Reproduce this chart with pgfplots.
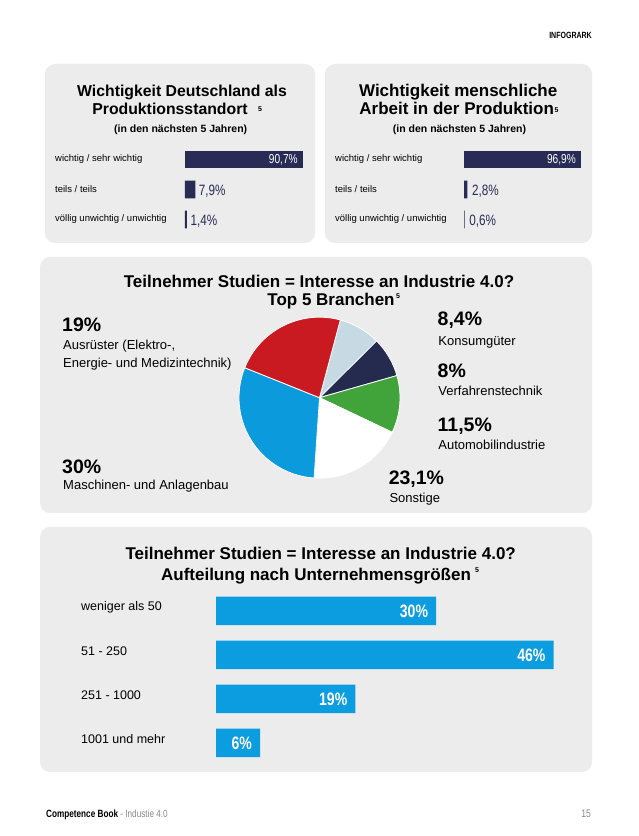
\documentclass[border=0pt]{standalone}
\usepackage{fontspec}
\setmainfont{Liberation Sans}
\newfontfamily\condfont[FakeStretch=0.78]{Liberation Sans}
\usepackage{pgfplots}
\pgfplotsset{compat=1.18}

\definecolor{panelgray}{HTML}{ECECEC}
\definecolor{navybar}{HTML}{272B55}
\definecolor{skyblue}{HTML}{0B9DDF}
\definecolor{piered}{HTML}{CA1A21}
\definecolor{pielight}{HTML}{C6DAE3}
\definecolor{pienavy}{HTML}{252A4F}
\definecolor{piegreen}{HTML}{41A43B}
\definecolor{pieblue}{HTML}{0B9ADB}
\definecolor{footgray}{HTML}{8A8A8A}

\newcommand{\fs}[1]{\fontsize{#1}{#1}\selectfont}

\pgfplotsset{
  hbars/.style={
    scale only axis, anchor=north west, xmin=0, y dir=reverse, clip=false,
    hide x axis, axis y line*=left, y axis line style={draw=none},
    ytick style={draw=none}, ytick={0,1,2,3},
    yticklabel style={anchor=west, inner sep=0pt},
  },
  barlabel/.style={nodes near coords, point meta=explicit symbolic,
    every node near coord/.append style={inner sep=0pt, #1}},
}

\begin{document}
\begin{tikzpicture}[x=1pt, y=1pt]
\path[fill=white] (0,0) rectangle (638,836);

% panels (page coordinates, y downwards)
\begin{scope}[shift={(0,836)}, yscale=-1]
  \fill[panelgray, rounded corners=10pt] (45,64) rectangle (315,243);
  \fill[panelgray, rounded corners=10pt] (325,64) rectangle (592,243);
  \fill[panelgray, rounded corners=10pt] (40,257) rectangle (592,513);
  \fill[panelgray, rounded corners=10pt] (40,527) rectangle (592,772);
\end{scope}

% Wichtigkeit Deutschland
\begin{axis}[hbars, at={(185pt,691.5pt)}, width=130pt, height=90pt,
  xmax=100, ymin=-0.5, ymax=2.5,
  yticklabels={wichtig / sehr wichtig, teils / teils, völlig unwichtig / unwichtig},
  yticklabel style={xshift=-130pt, font=\fs{9.5}}]
  \addplot[xbar, bar shift=0pt, bar width=17.6pt, fill=navybar, draw=none,
    barlabel={anchor=east, text=white, font=\condfont\fs{13}, xshift=-5pt}]
    coordinates {(90.7,0) [90{,}7\%]};
  \addplot[xbar, bar shift=0pt, bar width=17.6pt, fill=navybar, draw=none,
    barlabel={anchor=west, text=navybar, font=\condfont\fs{15}, xshift=3.5pt, yshift=-1.5pt}]
    coordinates {(7.9,1) [7{,}9\%] (1.4,2) [1{,}4\%]};
\end{axis}

% Wichtigkeit menschliche Arbeit
\begin{axis}[hbars, at={(464pt,691.5pt)}, width=120.75pt, height=90pt,
  xmax=100, ymin=-0.5, ymax=2.5,
  yticklabels={wichtig / sehr wichtig, teils / teils, völlig unwichtig / unwichtig},
  yticklabel style={xshift=-129pt, font=\fs{9.5}}]
  \addplot[xbar, bar shift=0pt, bar width=17.6pt, fill=navybar, draw=none,
    barlabel={anchor=east, text=white, font=\condfont\fs{13}, xshift=-5pt}]
    coordinates {(96.9,0) [96{,}9\%]};
  \addplot[xbar, bar shift=0pt, bar width=17.6pt, fill=navybar, draw=none,
    barlabel={anchor=west, text=navybar, font=\condfont\fs{15}, xshift=4.5pt, yshift=-1.5pt}]
    coordinates {(2.8,1) [2{,}8\%] (0.6,2) [0{,}6\%]};
\end{axis}

% Top 5 Branchen (pie), slices clockwise from 75 degrees
\def\R{80.5pt}
\begin{axis}[at={(319.5pt,438.3pt)}, anchor=center, scale only axis,
  width=161pt, height=161pt, xmin=-1, xmax=1, ymin=-1, ymax=1, hide axis]
  \filldraw[fill=pielight, draw=white, line width=0.8pt] (axis cs:0,0) -- ++(75:\R)
    arc[start angle=75, delta angle={-3.6*8.4}, radius=\R] -- cycle;
  \filldraw[fill=pienavy, draw=white, line width=0.8pt] (axis cs:0,0) -- ++({75-3.6*8.4}:\R)
    arc[start angle={75-3.6*8.4}, delta angle={-3.6*8}, radius=\R] -- cycle;
  \filldraw[fill=piegreen, draw=white, line width=0.8pt] (axis cs:0,0) -- ++({75-3.6*(8.4+8)}:\R)
    arc[start angle={75-3.6*(8.4+8)}, delta angle={-3.6*11.5}, radius=\R] -- cycle;
  \filldraw[fill=white, draw=white, line width=0.8pt] (axis cs:0,0) -- ++({75-3.6*(8.4+8+11.5)}:\R)
    arc[start angle={75-3.6*(8.4+8+11.5)}, delta angle={-3.6*19}, radius=\R] -- cycle;
  \filldraw[fill=pieblue, draw=white, line width=0.8pt] (axis cs:0,0) -- ++({75-3.6*(8.4+8+11.5+19)}:\R)
    arc[start angle={75-3.6*(8.4+8+11.5+19)}, delta angle={-3.6*30}, radius=\R] -- cycle;
  \filldraw[fill=piered, draw=white, line width=0.8pt] (axis cs:0,0) -- ++({75-3.6*(8.4+8+11.5+19+30)}:\R)
    arc[start angle={75-3.6*(8.4+8+11.5+19+30)}, delta angle={-3.6*23.1}, radius=\R] -- cycle;
\end{axis}

% Unternehmensgroessen
\begin{axis}[hbars, at={(216pt,247pt)}, width=367pt, height=176pt,
  xmax=50, ymin=-0.5, ymax=3.5,
  yticklabels={weniger als 50, 51 - 250, 251 - 1000, 1001 und mehr},
  yticklabel style={xshift=-135pt, yshift=4pt, font=\fs{12.5}}]
  \addplot[xbar, bar shift=0pt, bar width=28.5pt, fill=skyblue, draw=none,
    barlabel={anchor=east, text=white, font=\condfont\bfseries\fs{18}, xshift=-8pt}]
    coordinates {(30,0) [30\%] (46,1) [46\%] (19,2) [19\%] (6,3) [6\%]};
\end{axis}

% texts (page coordinates, y downwards)
\begin{scope}[shift={(0,836)}, yscale=-1, every node/.style={inner sep=0pt}]
  \node[anchor=base east, font=\condfont\bfseries\fs{9}] at (592,38.5) {INFOGRARK};

  \node[anchor=base, font=\bfseries\fs{15.8}] at (182,96.7) {Wichtigkeit Deutschland als};
  \node[anchor=base, font=\bfseries\fs{15.8}] at (170,115) {Produktionsstandort};
  \node[anchor=base west, font=\bfseries\fs{7}] at (258,111.3) {5};
  \node[anchor=base, font=\bfseries\fs{10.5}] at (180.7,132.7) {(in den nächsten 5 Jahren)};

  \node[anchor=base, font=\bfseries\fs{17}] at (458.2,96.7) {Wichtigkeit menschliche};
  \node[anchor=base, font=\bfseries\fs{17}] at (456.7,115) {Arbeit in der Produktion};
  \node[anchor=base west, font=\bfseries\fs{7}] at (554.5,113) {5};
  \node[anchor=base, font=\bfseries\fs{10.5}] at (459.5,132.7) {(in den nächsten 5 Jahren)};

  \node[anchor=base, font=\bfseries\fs{17}] at (319,287.5) {Teilnehmer Studien = Interesse an Industrie 4.0?};
  \node[anchor=base, font=\bfseries\fs{17}] at (331,305.5) {Top 5 Branchen};
  \node[anchor=base west, font=\bfseries\fs{7}] at (396,299) {5};

  \node[anchor=base west, font=\bfseries\fs{19.5}] at (62,331.7) {19\%};
  \node[anchor=base west, font=\fs{13}] at (63,349.5) {Ausrüster (Elektro-,};
  \node[anchor=base west, font=\fs{13}] at (63,368) {Energie- und Medizintechnik)};
  \node[anchor=base west, font=\bfseries\fs{19.5}] at (62,473.3) {30\%};
  \node[anchor=base west, font=\fs{13}] at (63,489.5) {Maschinen- und Anlagenbau};
  \node[anchor=base west, font=\bfseries\fs{19.5}] at (437.5,325.7) {8,4\%};
  \node[anchor=base west, font=\fs{13}] at (438.2,345.5) {Konsumgüter};
  \node[anchor=base west, font=\bfseries\fs{19.5}] at (437.5,377.7) {8\%};
  \node[anchor=base west, font=\fs{13}] at (438.2,396) {Verfahrenstechnik};
  \node[anchor=base west, font=\bfseries\fs{19.5}] at (437.5,431.7) {11,5\%};
  \node[anchor=base west, font=\fs{13}] at (438.2,450) {Automobilindustrie};
  \node[anchor=base west, font=\bfseries\fs{19.5}] at (388.6,485) {23,1\%};
  \node[anchor=base west, font=\fs{13}] at (389.3,503) {Sonstige};

  \node[anchor=base, font=\bfseries\fs{17}] at (320.7,559.5) {Teilnehmer Studien = Interesse an Industrie 4.0?};
  \node[anchor=base, font=\bfseries\fs{17}] at (316,581) {Aufteilung nach Unternehmensgrößen};
  \node[anchor=base west, font=\bfseries\fs{7}] at (475,572.3) {5};

  \node[anchor=base west] at (46,818) {\condfont\fs{10.5}\textbf{Competence Book} \textcolor{footgray}{- Industie 4.0}};
  \node[anchor=base east, text=footgray, font=\condfont\fs{11}] at (591,818) {15};
\end{scope}
\end{tikzpicture}
\end{document}
